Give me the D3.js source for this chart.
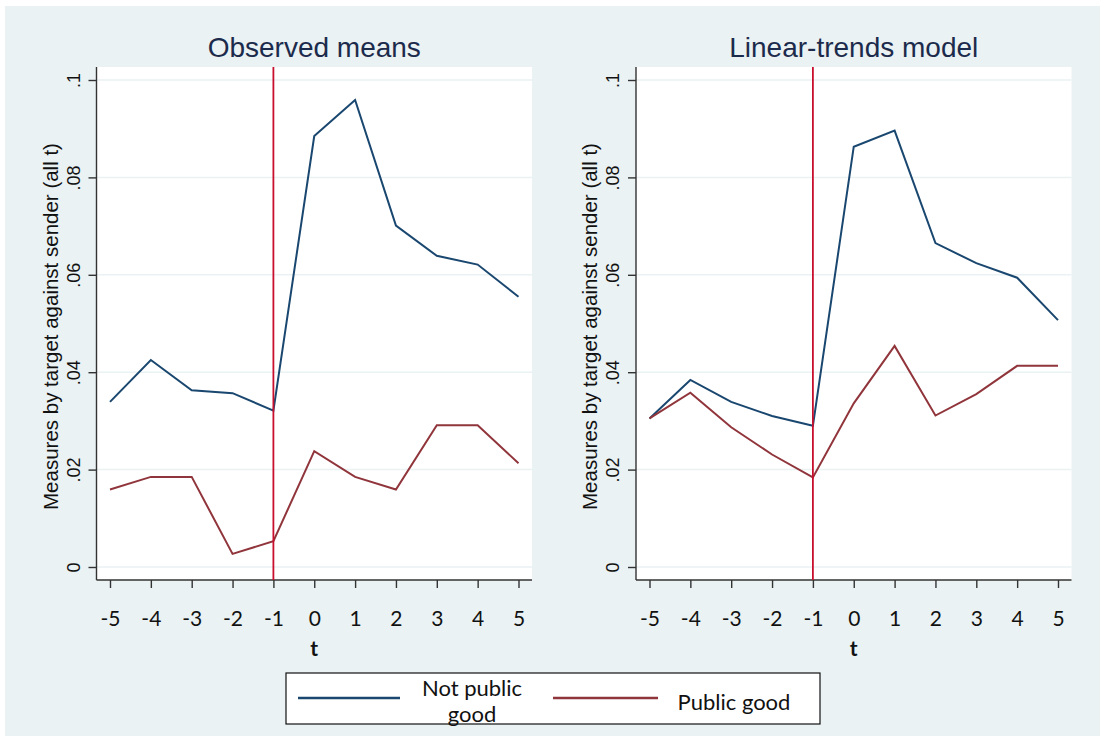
<!DOCTYPE html>
<html><head><meta charset="utf-8">
<script src="https://cdn.jsdelivr.net/npm/d3@7"></script>
<style>body{margin:0;background:#fff}svg{display:block}</style>
</head><body>
<svg id="c" width="1100" height="740"></svg>
<script>
const tValues = [-5,-4,-3,-2,-1,0,1,2,3,4,5];
const yTicks = [0,0.02,0.04,0.06,0.08,0.1];
const yTickLabels = ["0",".02",".04",".06",".08",".1"];
const panelTitles = ["Observed means","Linear-trends model"];
const seriesNames = ["Not public good","Public good"];
const obsNotPublic = [0.0339,0.0425,0.0363,0.0357,0.0321,0.0885,0.0959,0.0701,0.0639,0.0621,0.0555];
const obsPublic    = [0.0159,0.0185,0.0185,0.0027,0.0053,0.0238,0.0185,0.0159,0.0291,0.0291,0.0213];
const linNotPublic = [0.0305,0.0384,0.0339,0.0310,0.0290,0.0863,0.0896,0.0665,0.0624,0.0594,0.0507];
const linPublic    = [0.0305,0.0358,0.0287,0.0231,0.0184,0.0336,0.0454,0.0311,0.0355,0.0413,0.0413];
const eventTime = -1;
const yLabel = "Measures by target against sender (all t)";
const xLabel = "t";

(function(){
const colors = ["#1a476f","#90353b"];
const svg = d3.select("#c");
svg.append("rect").attr("x",5).attr("y",6).attr("width",1095).attr("height",730).attr("fill","#eaf2f3");

const panels = [
  {x0:96.5, x1:532, title:panelTitles[0], data:[obsNotPublic,obsPublic]},
  {x0:636, x1:1071.5, title:panelTitles[1], data:[linNotPublic,linPublic]}
];
const plotTop=67, plotBottom=580;

panels.forEach(p=>{
  const g = svg.append("g");
  g.append("rect").attr("x",p.x0).attr("y",plotTop).attr("width",p.x1-p.x0).attr("height",plotBottom-plotTop).attr("fill","#fff");
  const x = d3.scaleLinear().domain([-5,5]).range([p.x0+13.5, p.x1-13.5]);
  const y = d3.scaleLinear().domain([0,0.1]).range([567,80]);
  g.selectAll(".grid").data(yTicks).join("line")
    .attr("x1",p.x0).attr("x2",p.x1).attr("y1",d=>y(d)).attr("y2",d=>y(d))
    .attr("stroke","#eaf2f3").attr("stroke-width",1.5);
  const ya = g.append("g").attr("transform",`translate(${p.x0},0)`)
    .call(d3.axisLeft(y).tickValues(yTicks).tickFormat((d,i)=>yTickLabels[i]).tickSize(8).tickPadding(0));
  ya.select(".domain").attr("d",`M0,${plotTop}V${plotBottom}`).attr("stroke","#333").attr("stroke-width",1.4);
  ya.selectAll(".tick line").attr("stroke","#333").attr("stroke-width",1.4);
  ya.selectAll(".tick text").attr("transform","translate(-23,0) rotate(-90)")
    .attr("text-anchor","middle").attr("dy","0.35em").attr("x",0).attr("y",0)
    .attr("font-family","Liberation Sans, Arial, sans-serif").attr("font-size",18).attr("fill","#111");
  const xa = g.append("g").attr("transform",`translate(0,${plotBottom})`)
    .call(d3.axisBottom(x).tickValues(tValues).tickFormat(d3.format("d")).tickSize(8).tickPadding(23));
  xa.select(".domain").attr("d",`M${p.x0},0H${p.x1}`).attr("stroke","#333").attr("stroke-width",1.4);
  xa.selectAll(".tick line").attr("stroke","#333").attr("stroke-width",1.4);
  xa.selectAll(".tick text").attr("font-family","Lato, 'Open Sans', sans-serif").attr("font-size",21).attr("fill","#111")
    .text(d=>d<0?"-"+Math.abs(d):String(d));
  g.append("text").attr("x",(x(-5)+x(5))/2).attr("y",656).attr("text-anchor","middle")
    .attr("font-family","Lato, sans-serif").attr("font-weight","bold").attr("font-size",21).attr("fill","#111").text(xLabel);
  g.append("text").attr("transform",`translate(${p.x0-46},${(plotTop+plotBottom)/2+3}) rotate(-90)`)
    .attr("text-anchor","middle").attr("dy","0.35em").attr("font-family","Liberation Sans, Arial, sans-serif").attr("font-size",20.5).attr("fill","#111").text(yLabel);
  g.append("text").attr("x",(p.x0+p.x1)/2).attr("y",57).attr("text-anchor","middle")
    .attr("font-family","Liberation Sans, Arial, sans-serif").attr("font-size",28).attr("fill","#1c2b4c").text(p.title);
  const line = d3.line().x((d,i)=>x(tValues[i])).y(d=>y(d));
  p.data.forEach((s,k)=>{
    g.append("path").attr("d",line(s)).attr("fill","none").attr("stroke",colors[k]).attr("stroke-width",2);
  });
  g.append("line").attr("x1",x(eventTime)).attr("x2",x(eventTime)).attr("y1",plotTop).attr("y2",plotBottom)
    .attr("stroke","#c8102e").attr("stroke-width",1.8);
});

const lg = svg.append("g");
lg.append("rect").attr("x",286).attr("y",673).attr("width",534).attr("height",51).attr("fill","#fff").attr("stroke","#111").attr("stroke-width",1.2);
const legItems = [
  {x1:298,x2:400,c:colors[0]},
  {x1:553,x2:658,c:colors[1]}
];
legItems.forEach(l=>lg.append("line").attr("x1",l.x1).attr("x2",l.x2).attr("y1",698).attr("y2",698).attr("stroke",l.c).attr("stroke-width",2.4));
lg.append("text").attr("x",472).attr("y",696).attr("text-anchor","middle").attr("font-family","Lato, sans-serif").attr("font-size",22).attr("fill","#111").text("Not public");
lg.append("text").attr("x",472).attr("y",722).attr("text-anchor","middle").attr("font-family","Lato, sans-serif").attr("font-size",22).attr("fill","#111").text("good");
lg.append("text").attr("x",734).attr("y",710).attr("text-anchor","middle").attr("font-family","Lato, sans-serif").attr("font-size",22).attr("fill","#111").text(seriesNames[1]);
})();
</script>
</body></html>
